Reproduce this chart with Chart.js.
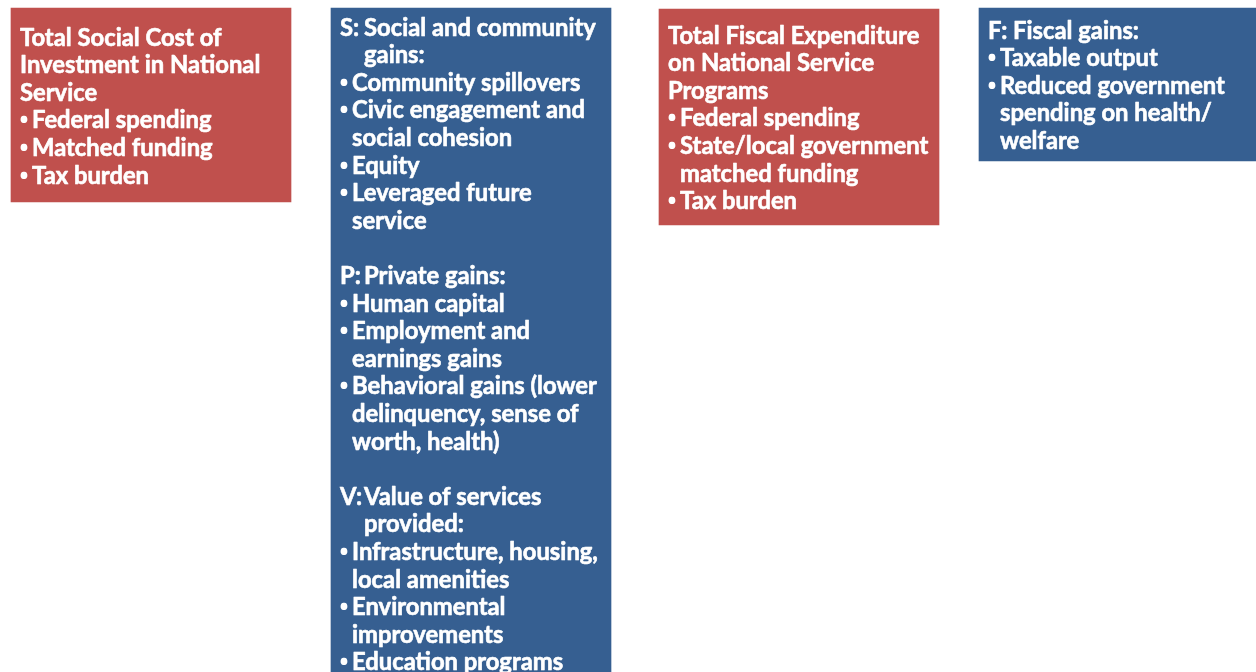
<!DOCTYPE html>
<html>
<head>
<meta charset="utf-8">
<script src="https://cdn.jsdelivr.net/npm/chart.js@4.4.0/dist/chart.umd.min.js"></script>
<style>
  html, body { margin: 0; padding: 0; background: #fff; }
  #wrap { width: 1256px; height: 672px; }
</style>
</head>
<body>
<div id="wrap"><canvas id="chart"></canvas></div>
<script>
// boxes of the diagram, in page units (x across, y down)
const boxNames = ['Total social cost', 'Social, private and service gains', 'Total fiscal expenditure', 'Fiscal gains'];
const boxCenter = [151, 471, 799, 1119];
const boxTop = [8, 8, 9, 8];
const boxBottom = [202, 680, 225, 161];
const boxKind = ['cost', 'gain', 'cost', 'gain'];

const socialCostLines = [
  'Total Social Cost of',
  'Investment in National',
  'Service',
  '• Federal spending',
  '• Matched funding',
  '• Tax burden'
];
const socialGainLines = [
  'S:\tSocial and community',
  '\tgains:',
  '• Community spillovers',
  '• Civic engagement and',
  '  social cohesion',
  '• Equity',
  '• Leveraged future',
  '  service',
  '',
  'P:\tPrivate gains:',
  '• Human capital',
  '• Employment and',
  '  earnings gains',
  '• Behavioral gains (lower',
  '  delinquency, sense of',
  '  worth, health)',
  '',
  'V:\tValue of services',
  '\tprovided:',
  '• Infrastructure, housing,',
  '  local amenities',
  '• Environmental',
  '  improvements',
  '• Education programs'
];
const fiscalCostLines = [
  'Total Fiscal Expenditure',
  'on National Service',
  'Programs',
  '• Federal spending',
  '• State/local government',
  '  matched funding',
  '• Tax burden'
];
const fiscalGainLines = [
  'F: Fiscal gains:',
  '• Taxable output',
  '• Reduced government',
  '  spending on health/',
  '  welfare'
];
const boxLines = [socialCostLines, socialGainLines, fiscalCostLines, fiscalGainLines];

const kindColor = { cost: '#c0504d', gain: '#365f91' };
const textOffset = [37.5, 27.5, 34.5, 30.5];   // first baseline below box top
const lineHeight = 27.6;
const fontFamily = 'Lato, "Open Sans", sans-serif';

const boxText = {
  id: 'boxText',
  afterDatasetsDraw(chart) {
    const ctx = chart.ctx;
    const meta = chart.getDatasetMeta(0);
    ctx.save();
    ctx.font = `bold 100px ${fontFamily}`;
    const size = 100 * 246 / ctx.measureText('Infrastructure, housing,').width;
    const font = `bold ${size}px ${fontFamily}`;
    const bulletFont = `bold ${size}px "Open Sans", sans-serif`;
    ctx.fillStyle = '#fff';
    ctx.strokeStyle = '#fff';
    ctx.lineWidth = 0.6;
    ctx.lineJoin = 'round';
    ctx.textBaseline = 'alphabetic';
    ctx.textAlign = 'left';

    const put = (s, x, y) => {
      ctx.fillText(s, x, y);
      ctx.strokeText(s, x, y);
    };

    meta.data.forEach((bar, i) => {
      const p = bar.getProps(['x', 'y', 'base', 'width'], true);
      const x0 = p.x - p.width / 2 + 9;
      let y = Math.min(p.y, p.base) + textOffset[i];
      boxLines[i].forEach(line => {
        ctx.font = font;
        if (line.startsWith('• ')) {
          put(line.slice(2), x0 + 12, y);
          ctx.font = bulletFont;
          ctx.fillText('•', x0 - 0.5, y);
        } else if (line.startsWith('  ')) {
          put(line.slice(2), x0 + 12, y);
        } else if (line.includes('\t')) {
          const parts = line.split('\t');
          if (parts[0]) put(parts[0], x0, y);
          put(parts[1], x0 + 24, y);
        } else if (line) {
          put(line, x0, y);
        }
        y += lineHeight;
      });
    });
    ctx.restore();
  }
};

new Chart(document.getElementById('chart'), {
  type: 'bar',
  data: {
    labels: boxNames,
    datasets: [{
      data: boxCenter.map((c, i) => ({ x: c, y: [boxTop[i], boxBottom[i]] })),
      backgroundColor: boxKind.map(k => kindColor[k]),
      borderWidth: 0,
      barThickness: 280
    }]
  },
  options: {
    responsive: true,
    maintainAspectRatio: false,
    animation: false,
    layout: { padding: 0 },
    plugins: {
      legend: { display: false },
      tooltip: { enabled: false }
    },
    scales: {
      x: { type: 'linear', min: 0, max: 1256, offset: false, display: false },
      y: { type: 'linear', min: 0, max: 672, reverse: true, display: false }
    }
  },
  plugins: [boxText]
});
</script>
</body>
</html>
